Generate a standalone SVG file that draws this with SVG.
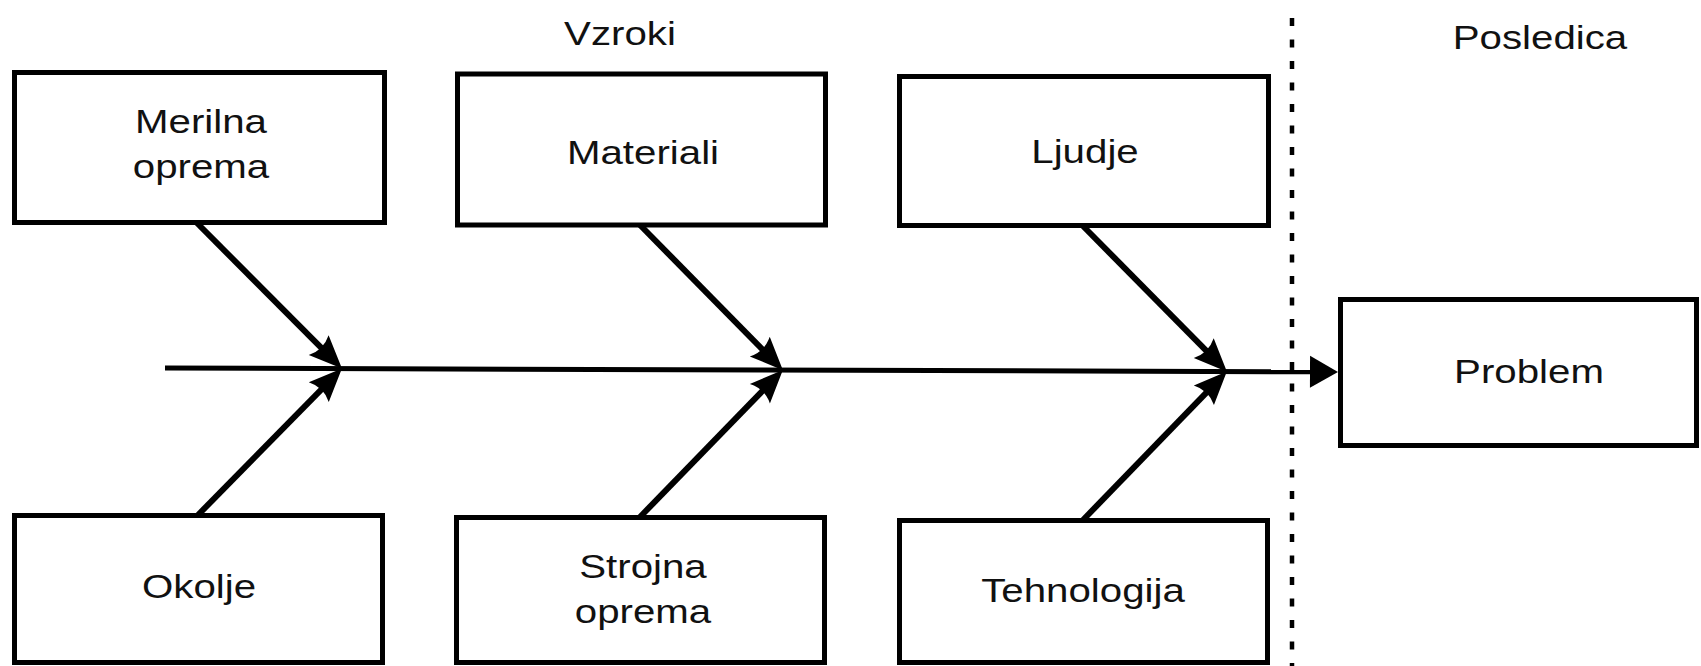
<svg xmlns="http://www.w3.org/2000/svg" width="1701" height="666" viewBox="0 0 1701 666">
  <defs>
    <style>
      .box { fill: #fff; stroke: #000; stroke-width: 5; }
      .lbl { font-family: "Liberation Sans", Arial, sans-serif; font-size: 33px; fill: #111; text-anchor: middle; }
      .bone { fill: none; stroke: #000; stroke-width: 6; stroke-linecap: butt; }
      .spine { fill: none; stroke: #000; stroke-width: 5; }
      .divider { fill: none; stroke: #000; stroke-width: 4.5; stroke-dasharray: 8 13.5; }
    </style>
    <!-- arrowhead where a cause bone meets the spine -->
    <marker id="boneHead" markerUnits="userSpaceOnUse" viewBox="-36 -16 38 32" markerWidth="38" markerHeight="32" refX="-13" refY="0" orient="auto">
      <path d="M0,0 L-33,-14 Q-26,0 -33,14 Z" fill="#000"/>
    </marker>
    <!-- arrowhead pointing into the effect box -->
    <marker id="spineHead" markerUnits="userSpaceOnUse" viewBox="-30 -18 32 36" markerWidth="32" markerHeight="36" refX="-26" refY="0" orient="auto">
      <path d="M0,0 L-28,-16 L-28,16 Z" fill="#000"/>
    </marker>
  </defs>

  <rect x="0" y="0" width="1701" height="666" fill="#fff"/>

  <!-- section headings -->
  <text class="lbl" transform="translate(620 45) scale(1.22 1)">Vzroki</text>
  <text class="lbl" transform="translate(1540 49) scale(1.22 1)">Posledica</text>

  <!-- cause / effect separator -->
  <line class="divider" x1="1292" y1="18" x2="1292" y2="666"/>

  <!-- spine and bones -->
  <g id="connectors">
    <line class="spine" x1="165" y1="368" x2="1312" y2="371.8" marker-end="url(#spineHead)"/>
    <line class="bone" x1="197" y1="223" x2="332.8" y2="359.4" marker-end="url(#boneHead)"/>
    <line class="bone" x1="640" y1="225" x2="773.8" y2="360.9" marker-end="url(#boneHead)"/>
    <line class="bone" x1="1083" y1="226" x2="1217.8" y2="362.4" marker-end="url(#boneHead)"/>
    <line class="bone" x1="198" y1="515" x2="332.8" y2="377.8" marker-end="url(#boneHead)"/>
    <line class="bone" x1="640" y1="517" x2="773.8" y2="379.3" marker-end="url(#boneHead)"/>
    <line class="bone" x1="1083" y1="520" x2="1217.8" y2="380.8" marker-end="url(#boneHead)"/>
  </g>

  <g id="merilna-oprema">
    <rect class="box" x="14.5" y="72.5" width="370" height="150"/>
    <text class="lbl" transform="translate(201 133) scale(1.22 1)">Merilna</text>
    <text class="lbl" transform="translate(201 178) scale(1.22 1)">oprema</text>
  </g>

  <g id="materiali">
    <rect class="box" x="457.5" y="74" width="368" height="151"/>
    <text class="lbl" transform="translate(643 164) scale(1.22 1)">Materiali</text>
  </g>

  <g id="ljudje">
    <rect class="box" x="899.5" y="76.5" width="369" height="149"/>
    <text class="lbl" transform="translate(1085 163) scale(1.22 1)">Ljudje</text>
  </g>

  <g id="okolje">
    <rect class="box" x="14.5" y="515.5" width="368" height="147"/>
    <text class="lbl" transform="translate(199 598) scale(1.22 1)">Okolje</text>
  </g>

  <g id="strojna-oprema">
    <rect class="box" x="456.5" y="517.5" width="368" height="145"/>
    <text class="lbl" transform="translate(643 578) scale(1.22 1)">Strojna</text>
    <text class="lbl" transform="translate(643 623) scale(1.22 1)">oprema</text>
  </g>

  <g id="tehnologija">
    <rect class="box" x="899.5" y="520.5" width="368" height="142"/>
    <text class="lbl" transform="translate(1083 602) scale(1.22 1)">Tehnologija</text>
  </g>

  <g id="problem">
    <rect class="box" x="1340.5" y="299.5" width="356" height="146"/>
    <text class="lbl" transform="translate(1529 383) scale(1.22 1)">Problem</text>
  </g>
</svg>
